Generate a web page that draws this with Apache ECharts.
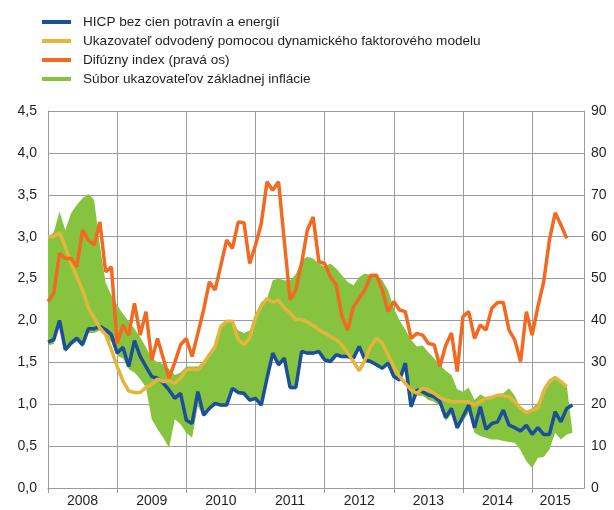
<!DOCTYPE html>
<html>
<head>
<meta charset="utf-8">
<script src="https://cdn.jsdelivr.net/npm/echarts@6/dist/echarts.min.js"></script>
<style>
  html, body { margin: 0; padding: 0; background: #fff; }
  #main { width: 614px; height: 510px; }
</style>
</head>
<body>
<div id="main"></div>
<script>
// mesačné údaje, január 2008 (index 0) až august 2015
var yearLabels = ['2008', '2009', '2010', '2011', '2012', '2013', '2014', '2015'];

var hicp = [1.74, 1.77, 2.00, 1.65, 1.73, 1.79, 1.71, 1.90, 1.90, 1.93, 1.89, 1.83,
    1.61, 1.68, 1.45, 1.76, 1.57, 1.45, 1.33, 1.31, 1.25, 1.17, 1.07, 1.13,
    0.81, 0.77, 1.15, 0.87, 0.95, 1.01, 0.99, 0.99, 1.19, 1.14, 1.13, 1.05,
    1.07, 0.99, 1.31, 1.61, 1.47, 1.55, 1.20, 1.20, 1.63, 1.61, 1.61, 1.63,
    1.53, 1.51, 1.59, 1.57, 1.57, 1.55, 1.69, 1.53, 1.51, 1.47, 1.43, 1.49,
    1.33, 1.29, 1.49, 0.97, 1.17, 1.15, 1.11, 1.09, 1.03, 0.84, 0.95, 0.72,
    0.85, 0.99, 0.72, 0.97, 0.70, 0.77, 0.79, 0.93, 0.75, 0.72, 0.68, 0.75,
    0.64, 0.72, 0.64, 0.64, 0.91, 0.79, 0.95, 0.99];

var dfm = [3.00, 3.00, 3.05, 2.88, 2.68, 2.52, 2.36, 2.15, 2.03, 1.91, 1.83, 1.65,
    1.45, 1.28, 1.16, 1.14, 1.14, 1.20, 1.24, 1.30, 1.27, 1.28, 1.25, 1.31,
    1.41, 1.42, 1.41, 1.49, 1.59, 1.69, 1.93, 1.99, 1.99, 1.77, 1.71, 1.79,
    2.03, 2.17, 2.26, 2.22, 2.24, 2.15, 2.09, 2.01, 2.01, 1.98, 1.94, 1.89,
    1.85, 1.81, 1.77, 1.71, 1.61, 1.51, 1.40, 1.53, 1.69, 1.79, 1.73, 1.59,
    1.45, 1.33, 1.25, 1.17, 1.13, 1.19, 1.17, 1.13, 1.08, 1.05, 1.03, 1.03,
    1.03, 1.03, 0.99, 1.03, 1.07, 1.08, 1.11, 1.10, 1.09, 1.03, 0.95, 0.90,
    0.93, 0.95, 1.15, 1.27, 1.32, 1.27, 1.21, null];

var diffusion = [44.5, 46.5, 56.0, 54.8, 54.8, 52.8, 61.6, 59.2, 58.0, 63.5, 51.6, 52.8,
    34.5, 38.9, 36.5, 44.1, 36.5, 42.1, 30.5, 35.7, 31.0, 26.2, 30.0, 34.2,
    35.7, 31.4, 36.9, 42.5, 49.2, 47.3, 53.2, 59.2, 57.2, 63.5, 63.3, 53.6,
    58.0, 63.1, 73.1, 71.1, 73.1, 59.0, 44.9, 47.3, 53.6, 61.6, 64.7, 54.0,
    53.6, 50.4, 48.5, 40.9, 37.7, 43.3, 45.3, 47.3, 50.8, 50.8, 47.3, 42.1,
    44.5, 42.5, 42.1, 35.7, 36.9, 36.5, 34.5, 34.2, 29.0, 34.0, 37.0, 27.8,
    40.9, 42.1, 35.7, 38.9, 37.7, 42.9, 44.3, 44.3, 37.7, 35.3, 30.2, 42.1,
    36.5, 43.3, 49.2, 59.2, 65.7, 62.8, 59.6, null];

var bandHigh = [3.00, 3.05, 3.30, 3.08, 3.28, 3.38, 3.46, 3.51, 3.44, 2.90, 2.45, 2.30,
    2.18, 2.08, 1.99, 1.90, 1.80, 1.68, 1.55, 1.50, 1.48, 1.42, 1.35, 1.38,
    1.45, 1.45, 1.45, 1.52, 1.62, 1.72, 1.95, 2.00, 2.00, 1.88, 1.85, 1.88,
    2.08, 2.22, 2.26, 2.48, 2.50, 2.48, 2.48, 2.55, 2.72, 2.76, 2.74, 2.68,
    2.64, 2.68, 2.62, 2.54, 2.46, 2.42, 2.52, 2.56, 2.54, 2.54, 2.48, 2.36,
    2.15, 2.00, 1.89, 1.77, 1.69, 1.70, 1.62, 1.55, 1.47, 1.40, 1.35, 1.18,
    1.15, 1.20, 1.05, 1.12, 1.08, 1.10, 1.12, 1.13, 1.19, 1.10, 0.95, 0.92,
    0.95, 1.02, 1.20, 1.30, 1.33, 1.28, 1.23, 0.66];

var bandLow = [1.70, 1.72, 1.95, 1.62, 1.70, 1.75, 1.68, 1.85, 1.85, 1.88, 1.82, 1.74,
    1.58, 1.55, 1.42, 1.38, 1.30, 1.20, 0.82, 0.70, 0.60, 0.48, 0.82, 0.76,
    0.66, 0.60, 0.98, 0.85, 0.93, 0.99, 0.97, 0.97, 1.17, 1.12, 1.11, 1.03,
    1.05, 0.97, 1.29, 1.59, 1.45, 1.53, 1.18, 1.18, 1.61, 1.59, 1.59, 1.61,
    1.51, 1.49, 1.57, 1.55, 1.55, 1.53, 1.67, 1.51, 1.49, 1.45, 1.41, 1.47,
    1.31, 1.27, 1.47, 0.95, 1.10, 1.10, 1.05, 1.03, 0.98, 0.80, 0.88, 0.70,
    0.80, 0.90, 0.66, 0.62, 0.60, 0.58, 0.58, 0.56, 0.55, 0.54, 0.45, 0.32,
    0.24, 0.36, 0.37, 0.46, 0.66, 0.58, 0.64, 0.64];

var names = [
    'HICP bez cien potravín a energií',
    'Ukazovateľ odvodený pomocou dynamického faktorového modelu',
    'Difúzny index (pravá os)',
    'Súbor ukazovateľov základnej inflácie'
];

var FONT = 'Liberation Sans, Arial, sans-serif';
var TXT = '#231f20';
var GRID = '#9b9b9b';

// kategórie = mesiace jan 2008 .. sep 2015 (94 bodov osi), popis roka v strede roka
var months = [];
for (var i = 0; i <= 93; i++) months.push('');
yearLabels.forEach(function (y, k) {
    months[k < 7 ? 6 + 12 * k : 88] = y;
});

function yearTick(index) { return index % 12 === 0; }

var myChart = echarts.init(document.getElementById('main'));

var option = {
    animation: false,
    textStyle: { fontFamily: FONT },
    legend: {
        orient: 'vertical',
        left: 37,
        top: 10,
        itemWidth: 29,
        itemHeight: 4,
        itemGap: 5,
        icon: 'rect',
        data: names,
        textStyle: { fontFamily: FONT, fontSize: 13.6, color: TXT, padding: [0, 0, 0, 7] }
    },
    grid: { left: 48, right: 30, top: 111, bottom: 22, containLabel: false },
    xAxis: {
        type: 'category',
        boundaryGap: false,
        data: months,
        axisLine: { show: true, lineStyle: { color: GRID } },
        axisTick: { show: true, length: 5, interval: yearTick, lineStyle: { color: GRID } },
        splitLine: { show: true, interval: yearTick, lineStyle: { color: GRID, width: 1 } },
        axisLabel: {
            margin: 6,
            fontFamily: FONT, fontSize: 14, color: TXT,
            interval: function (index, value) { return value !== ''; }
        }
    },
    yAxis: [{
        type: 'value',
        min: 0,
        max: 4.5,
        interval: 0.5,
        axisLine: { show: true, lineStyle: { color: GRID } },
        axisTick: { show: false },
        splitLine: { show: true, lineStyle: { color: GRID, width: 1 } },
        axisLabel: {
            margin: 11,
            fontFamily: FONT, fontSize: 14, color: TXT,
            formatter: function (v) { return v.toFixed(1).replace('.', ','); }
        }
    }, {
        type: 'value',
        min: 0,
        max: 90,
        interval: 10,
        position: 'right',
        axisLine: { show: true, lineStyle: { color: GRID } },
        axisTick: { show: false },
        splitLine: { show: false },
        axisLabel: { margin: 7, fontFamily: FONT, fontSize: 14, color: TXT }
    }],
    series: [{
        name: 'low',
        type: 'line',
        stack: 'band',
        symbol: 'none',
        data: bandLow,
        lineStyle: { opacity: 0 },
        areaStyle: { opacity: 0 },
        silent: true,
        z: 1
    }, {
        name: names[3],
        type: 'line',
        stack: 'band',
        symbol: 'none',
        data: bandHigh.map(function (v, k) { return +(v - bandLow[k]).toFixed(2); }),
        itemStyle: { color: '#86c440' },
        lineStyle: { opacity: 0 },
        areaStyle: { color: '#86c440', opacity: 1 },
        z: 1
    }, {
        name: names[0],
        type: 'line',
        symbol: 'none',
        data: hicp,
        itemStyle: { color: '#1d4e9a' },
        lineStyle: { color: '#1d4e9a', width: 3.5 },
        z: 3
    }, {
        name: names[1],
        type: 'line',
        symbol: 'none',
        data: dfm,
        itemStyle: { color: '#e4b43c' },
        lineStyle: { color: '#e4b43c', width: 3.5 },
        z: 4
    }, {
        name: names[2],
        type: 'line',
        yAxisIndex: 1,
        symbol: 'none',
        data: diffusion,
        itemStyle: { color: '#f26a22' },
        lineStyle: { color: '#f26a22', width: 3.5 },
        z: 5
    }]
};

myChart.setOption(option);
</script>
</body>
</html>
